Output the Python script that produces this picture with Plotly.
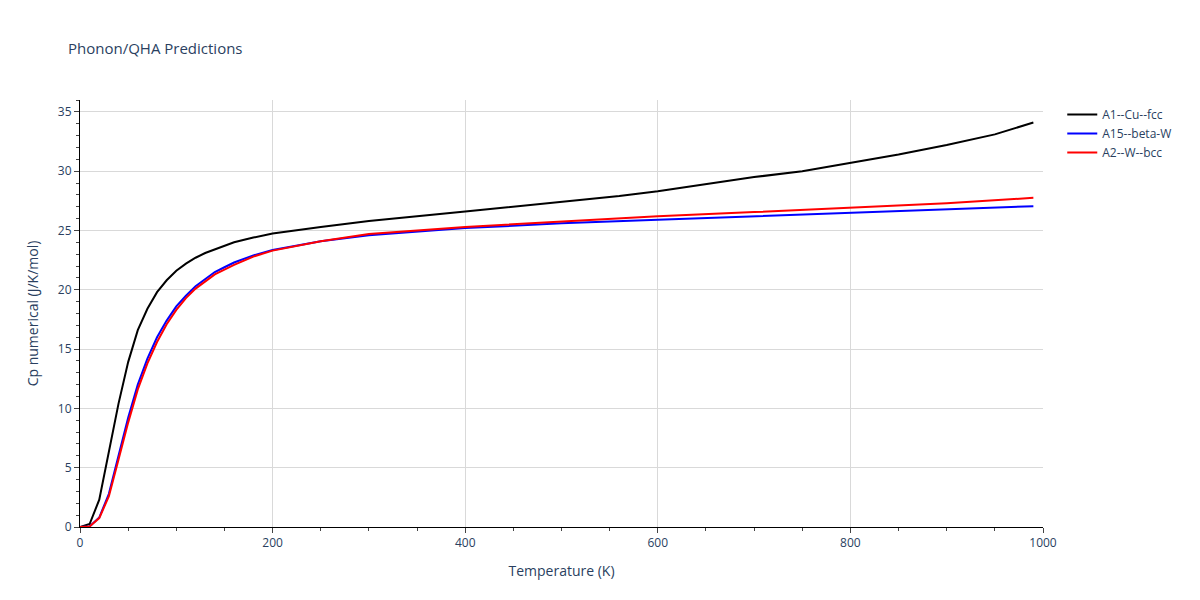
import plotly.graph_objects as go

temps_low = [0, 10, 20, 30, 40, 50, 60, 70, 80, 90, 100, 110, 120, 130, 140, 150, 160, 180, 200]
temps_high = [250, 300, 400, 500, 600, 700, 800, 900, 990]

cu_low = [0, 0.25, 2.3, 6.3, 10.4, 13.9, 16.6, 18.4, 19.8, 20.8, 21.6, 22.2, 22.7, 23.1, 23.4, 23.7, 24.0, 24.4, 24.75]
cu_temps_high = [250, 300, 400, 500, 560, 600, 650, 700, 750, 800, 850, 900, 950, 990]
cu_high = [25.3, 25.8, 26.6, 27.4, 27.9, 28.3, 28.9, 29.5, 30.0, 30.7, 31.4, 32.2, 33.1, 34.1]

a15_low = [0, 0.05, 0.8, 2.8, 6.0, 9.2, 12.0, 14.2, 16.0, 17.4, 18.6, 19.5, 20.3, 20.9, 21.5, 21.9, 22.3, 22.9, 23.35]
a15_high = [24.1, 24.6, 25.2, 25.6, 25.9, 26.2, 26.5, 26.8, 27.05]

a2_low = [0, 0.05, 0.75, 2.6, 5.7, 8.8, 11.6, 13.8, 15.6, 17.1, 18.3, 19.3, 20.1, 20.7, 21.3, 21.7, 22.1, 22.8, 23.3]
a2_high = [24.1, 24.7, 25.3, 25.75, 26.2, 26.55, 26.95, 27.3, 27.75]

fig = go.Figure()
fig.add_trace(go.Scatter(x=temps_low + cu_temps_high, y=cu_low + cu_high, mode='lines',
                         name='A1--Cu--fcc', line=dict(color='black', width=2)))
fig.add_trace(go.Scatter(x=temps_low + temps_high, y=a15_low + a15_high, mode='lines',
                         name='A15--beta-W', line=dict(color='blue', width=2)))
fig.add_trace(go.Scatter(x=temps_low + temps_high, y=a2_low + a2_high, mode='lines',
                         name='A2--W--bcc', line=dict(color='red', width=2)))

axis_style = dict(showline=True, linecolor='black', gridcolor='#d9d9d9',
                  ticks='outside', ticklen=5, minor=dict(ticks='outside', ticklen=3), zeroline=False)
fig.update_layout(
    width=1200, height=600,
    title_text='Phonon/QHA Predictions', title_font_size=15,
    plot_bgcolor='white', paper_bgcolor='white',
    margin=dict(l=72, r=165, t=92, b=81),
    xaxis=dict(title_text='Temperature (K)', range=[0, 1000], **axis_style),
    yaxis=dict(title_text='Cp numerical (J/K/mol)', range=[0, 36], **axis_style),
)
fig.write_html("out.html")
